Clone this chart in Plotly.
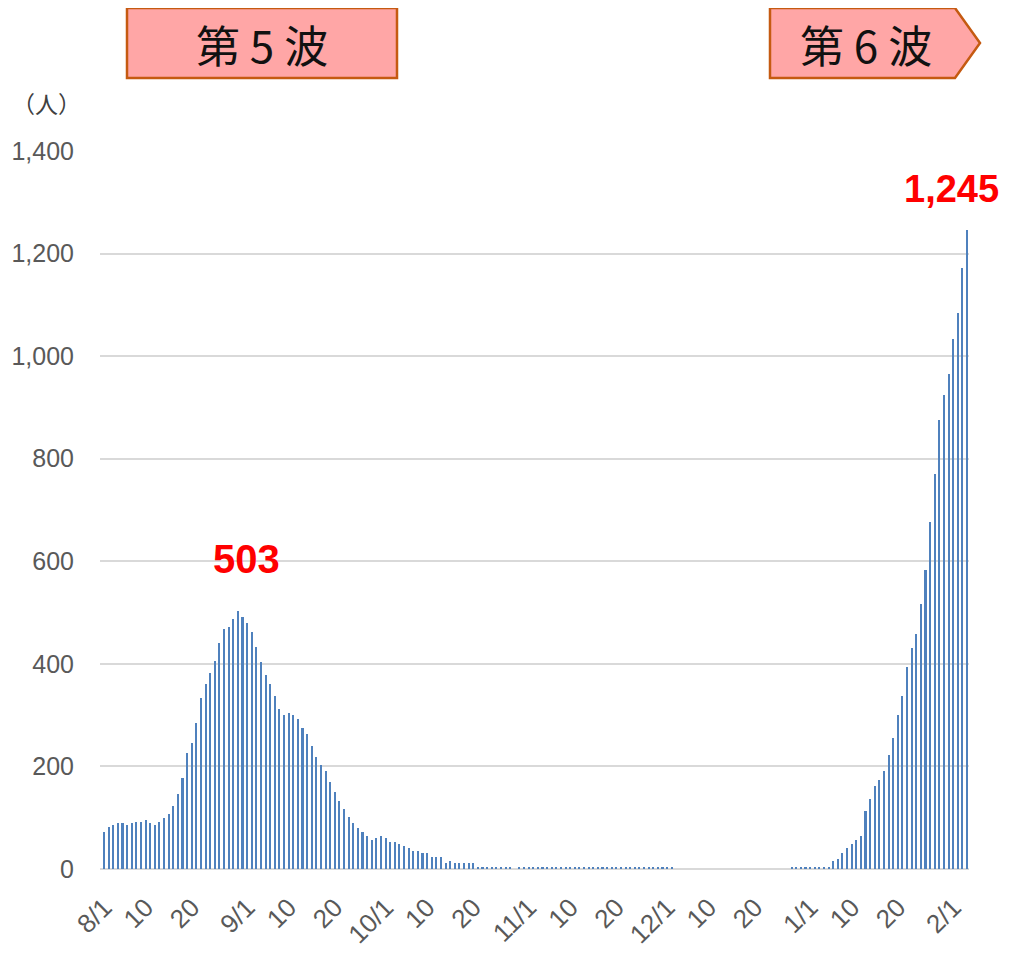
import pandas as pd
import plotly.graph_objects as go

# ---- data (daily new cases, 2021-08-01 .. 2022-02-04) ----
start_date = "2021-08-01"
aug = [73, 81, 85, 89, 89, 85, 89, 91, 91, 95, 89, 85, 91, 99, 107, 122, 147, 178, 227, 245,
       285, 334, 361, 383, 406, 440, 468, 472, 488, 503, 492]
sep = [480, 462, 432, 403, 379, 361, 338, 312, 301, 304, 300, 292, 275, 263, 240, 218, 203, 191,
       170, 150, 133, 117, 102, 90, 80, 73, 65, 57, 61, 65]
oct_ = [61, 53, 53, 49, 45, 40, 36, 36, 32, 32, 24, 24, 24, 12, 16, 12, 12, 12, 12, 12,
        4, 4, 4, 4, 4, 4, 4, 4, 0, 4, 4]
nov = [4, 4, 4, 4, 4, 4, 4, 4, 4, 4, 4, 4, 4, 4, 4, 4, 4, 4, 4, 4,
       4, 4, 4, 4, 4, 4, 4, 4, 4, 4]
dec = [4, 4, 0, 0, 0, 0, 0, 0, 0, 0, 0, 0, 0, 0, 0, 0, 0, 0, 0, 0,
       0, 0, 0, 0, 0, 0, 0, 4, 4, 4, 4]
jan = [4, 4, 4, 4, 4, 16, 20, 32, 40, 49, 57, 65, 113, 137, 162, 174, 191, 222, 255, 300,
       337, 394, 430, 458, 516, 583, 676, 770, 875, 924, 965]
feb = [1034, 1084, 1172, 1245]

values = aug + sep + oct_ + nov + dec + jan + feb
dates = pd.date_range(start_date, periods=len(values), freq="D")

tick_dates = ["2021-08-01", "2021-08-10", "2021-08-20", "2021-09-01", "2021-09-10", "2021-09-20",
              "2021-10-01", "2021-10-10", "2021-10-20", "2021-11-01", "2021-11-10", "2021-11-20",
              "2021-12-01", "2021-12-10", "2021-12-20", "2022-01-01", "2022-01-10", "2022-01-20",
              "2022-02-01"]
tick_text = ["8/1", "10", "20", "9/1", "10", "20", "10/1", "10", "20", "11/1", "10", "20",
             "12/1", "10", "20", "1/1", "10", "20", "2/1"]
y_ticks = [0, 200, 400, 600, 800, 1000, 1200, 1400]
wave_labels = ["第 5 波", "第 6 波"]
unit_label = "（人）"

# ---- layout geometry ----
# The page has an 8px body margin, so the figure is drawn 8px smaller on each side
# and all target page-pixel positions are shifted by that offset.
OFF = 8
W, H = 1013 - 2 * OFF, 962 - 2 * OFF
PL, PR, PT, PB = 100, 969, 151, 869          # plot area in page pixels
L, R, T, B = PL - OFF, W - (PR - OFF), PT - OFF, H - (PB - OFF)
PW, PH = W - L - R, H - T - B


def px(xp):
    return (xp - PL) / PW


def py(yp):
    return (PB - yp) / PH


day_px = PW / 188.3
x0 = dates[0] - pd.Timedelta(days=4.3 / day_px)
x1 = dates[-1] + pd.Timedelta(days=(PR - 967.3) / day_px)

fig = go.Figure()
fig.add_trace(go.Bar(
    x=dates, y=values,
    width=0.34 * 86400000,
    marker=dict(color="#4F81BD", line=dict(width=0)),
    hoverinfo="x+y",
))

tick_font = dict(family="Liberation Sans, Arial, sans-serif", size=25, color="#595959")

fig.update_layout(
    width=W, height=H,
    margin=dict(l=L, r=R, t=T, b=B, autoexpand=False),
    plot_bgcolor="white", paper_bgcolor="white",
    showlegend=False,
    bargap=0,
    xaxis=dict(
        type="date", range=[x0, x1], automargin=False,
        tickmode="array", tickvals=tick_dates, ticktext=tick_text,
        tickangle=-45, tickfont=dict(tick_font, size=26),
        showgrid=False, showline=False, zeroline=False, ticks="",
        ticklabelstandoff=17,
    ),
    yaxis=dict(
        range=[0, 1400], tickmode="array", tickvals=y_ticks, automargin=False,
        tickformat=",d", tickfont=tick_font,
        showgrid=True, gridcolor="#D9D9D9", gridwidth=1.5,
        zeroline=True, zerolinecolor="#D9D9D9", zerolinewidth=1.5,
        showline=False, ticks="", ticklabelstandoff=25,
    ),
)

# wave boxes
fig.add_shape(type="rect", xref="paper", yref="paper",
              x0=px(127), x1=px(397), y0=py(78), y1=py(8),
              fillcolor="#FFA6A6", line=dict(color="#C55A11", width=2.5), layer="above")
pts = [(770, 8), (955, 8), (980, 43), (955, 78), (770, 78)]
path = "M " + " L ".join(f"{px(a):.5f},{py(b):.5f}" for a, b in pts) + " Z"
fig.add_shape(type="path", xref="paper", yref="paper", path=path,
              fillcolor="#FFA6A6", line=dict(color="#C55A11", width=2.5), layer="above")

cjk = "Noto Sans CJK JP, sans-serif"
fig.add_annotation(xref="paper", yref="paper", x=px(262), y=py(44), text=wave_labels[0],
                   showarrow=False, xanchor="center", yanchor="middle",
                   font=dict(family=cjk, size=44, color="#111111"))
fig.add_annotation(xref="paper", yref="paper", x=px(866), y=py(44), text=wave_labels[1],
                   showarrow=False, xanchor="center", yanchor="middle",
                   font=dict(family=cjk, size=44, color="#111111"))
fig.add_annotation(xref="paper", yref="paper", x=px(46), y=py(103), text=unit_label,
                   showarrow=False, xanchor="center", yanchor="middle",
                   font=dict(family=cjk, size=23, color="#404040"))

# peak labels
peak5 = max(aug + sep)
i5 = values.index(peak5)
i6 = len(values) - 1
bold = dict(family="Liberation Sans, Arial, sans-serif", size=40, color="#FF0000")
fig.add_annotation(x=dates[i5], y=values[i5], text=f"<b>{values[i5]:,}</b>", showarrow=False,
                   xanchor="center", yanchor="bottom", yshift=28, xshift=8, font=bold)
fig.add_annotation(x=dates[i6], y=values[i6], text=f"<b>{values[i6]:,}</b>", showarrow=False,
                   xanchor="right", yanchor="bottom", yshift=18, xshift=34,
                   font=dict(bold, size=38))

fig.write_html("out.html")
